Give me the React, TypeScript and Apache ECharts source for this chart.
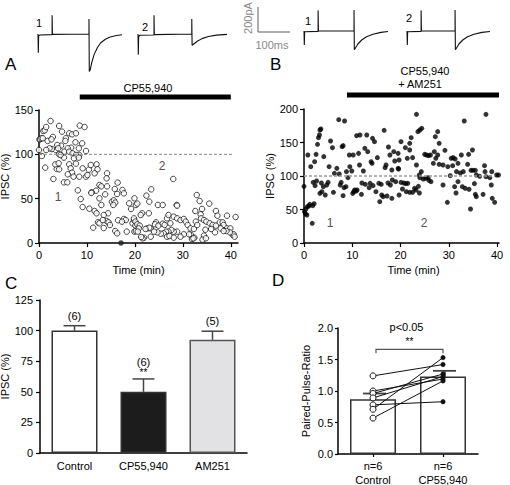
import React, { useEffect, useRef } from "react";
import * as echarts from "echarts";

const FONT = "'Liberation Sans', Arial, Helvetica, sans-serif";

// ---------- Example traces (time in ms, current in pA) ----------
const traceA1: number[][] = [[0,0],[1,0],[1,-150],[2,-15],[6,-8],[44,-5],[44,150],[45,-3],[159,0],[159,120],[160,-300],[163,-285],[168,-225],[175,-165],[185,-110],[195,-72],[210,-42],[225,-24],[245,-12],[262,-6]];
const traceA2: number[][] = [[0,0],[1,0],[1,-165],[2,-20],[6,-10],[50,-8],[50,150],[51,-5],[168,0],[168,120],[169,-90],[175,-78],[185,-58],[200,-37],[220,-20],[245,-9],[278,-3]];
const traceB1: number[][] = [[0,0],[1,0],[1,-112],[2,-6],[44,-3],[44,165],[45,0],[156,0],[156,168],[157,-150],[160,-138],[168,-104],[180,-72],[195,-46],[215,-26],[240,-11],[262,-4]];
const traceB2: number[][] = [[0,0],[1,0],[1,-112],[2,-6],[44,-3],[44,165],[45,0],[150,0],[150,168],[151,-150],[154,-138],[162,-104],[174,-72],[189,-46],[209,-26],[234,-11],[259,-4]];

// ---------- Panel A: CP55,940 (open circles), [time min, IPSC %] ----------
const scatterA: number[][] = [
[0.1,116.6],[0.2,117.3],[0.5,118.1],[0.8,118.1],[0,104.9],[0.6,98.1],[0.9,126.3],[1.2,127.1],[1.5,130.8],[2.4,137.6],[1.3,85.0],[3.0,72.2],[4.2,132.0],[4.8,125.6],[5.6,118.1],[6.3,123.7],[6.9,122.6],[7.7,123.7],[8.5,132.4],[9.5,130.8],[9.0,112.4],[9.8,103.8],[7.6,113.6],[8.3,106.8],[8.4,99.3],[6.7,107.5],[6.0,106.8],[5.5,115.1],[5.3,103.0],[4.6,109.8],[3.8,110.5],[3.5,104.9],[2.7,106.0],[2.2,106.8],[1.8,115.1],[1.5,104.9],[2.9,119.6],[2.6,116.9],[4.0,106.8],[4.2,100.0],[5.2,96.3],[4.5,99.3],[6.3,103.0],[7.0,101.1],[7.7,99.3],[7.3,95.5],[6.3,88.7],[6.6,84.2],[6.9,79.3],[6.0,77.5],[5.2,68.4],[5.9,68.4],[3.7,83.5],[4.2,83.1],[3.4,88.7],[4.1,89.9],[7.7,89.5],[8.3,96.3],[9.1,84.2],[7.2,74.8],[8.4,74.8],[9.8,74.8],[10.1,76.7],[10.4,82.7],[10.8,88.0],[12.0,88.7],[12.2,83.1],[11.6,78.6],[14.2,78.6],[14.1,72.9],[12.6,65.4],[13.0,63.9],[14.2,63.9],[16.4,68.1],[15.8,60.9],[17.4,59.8],[17.7,56.0],[16.3,55.3],[13.8,54.9],[15.2,46.6],[15.6,48.1],[15.9,45.5],[15.5,42.9],[11.9,59.0],[11.0,57.2],[10.9,56.4],[8.1,59.4],[8.7,49.6],[9.1,40.6],[10.5,38.7],[11.6,36.1],[12.6,50.4],[13.0,42.9],[12.0,33.5],[12.3,23.3],[12.6,22.2],[14.4,33.5],[13.5,31.6],[14.1,24.8],[14.5,23.3],[14.8,20.3],[13.3,25.9],[11.3,17.3],[13.5,16.9],[16.5,25.6],[17.7,27.1],[18.1,25.9],[17.3,24.1],[15.9,13.5],[16.3,10.9],[18.3,12.8],[19.5,22.2],[18.8,44.7],[19.2,38.4],[19.9,50.4],[20.2,42.9],[19.8,25.9],[20.1,19.6],[19.9,12.8],
[28.0,72.2],[23.4,60.5],[22.4,53.4],[23.0,46.6],[20.5,44.4],[24.8,42.9],[25.8,42.9],[28.7,42.9],[28.8,42.1],[32.9,54.1],[33.5,47.4],[34.0,38.4],[35.5,44.4],[32.6,36.1],[33.7,32.3],[33.8,27.8],[36.9,36.1],[37.2,30.8],[39.2,30.8],[41.0,29.3],[22.9,33.5],[21.5,33.5],[21.2,31.6],[19.8,27.8],[20.1,24.1],[20.5,21.1],[21.0,19.6],[20.2,13.5],[20.8,16.5],[22.6,16.5],[23.3,16.5],[24.4,23.3],[24.2,21.1],[24.9,19.6],[25.8,21.8],[26.2,20.3],[26.7,27.8],[27.0,31.6],[27.4,22.2],[28.1,29.7],[28.8,27.8],[29.5,25.9],[30.2,27.1],[30.6,24.1],[31.0,20.3],[31.6,16.5],[32.3,15.8],[32.7,24.1],[33.0,20.3],[34.4,25.9],[34.9,24.1],[35.6,22.2],[36.2,20.3],[36.9,19.6],[37.7,23.3],[38.3,23.3],[38.5,20.3],[37.9,16.5],[39.2,16.5],[39.9,16.5],[40.4,9.0],[40.6,9.8],[39.8,12.0],[39.1,13.5],[36.7,12.0],[35.9,15.8],[34.7,15.0],[34.4,8.3],[34.1,3.8],[32.4,6.0],[31.7,9.0],[31.3,9.8],[30.2,9.8],[29.5,7.1],[28.8,12.8],[28.1,12.8],[27.6,14.7],[27.0,12.8],[26.5,12.8],[26.0,10.9],[25.4,10.5],[24.7,12.0],[24.0,12.8],[23.3,7.1],[21.9,6.0],[21.6,5.3],[21.3,6.8],[20.6,12.8],[23.0,17.3],[22.2,15.8],[26.7,7.1],[27.2,7.9],[28.1,6.0],[31.9,4.5],[32.2,5.3],[34.8,5.3],[38.5,13.5],[40.8,7.1]
];
const filledPointA: number[][] = [[17.1, 0]];

// ---------- Panel B: CP55,940 + AM251 (filled), [time min, IPSC %] ----------
const scatterB: number[][] = [
[0,84.6],[0.1,46.8],[0.4,50.7],[0.7,54.2],[1.0,55.2],[1.2,57.7],[1.8,55.7],[2.1,58.7],[1.7,29.4],[0.6,41.8],[0.3,43.8],[0.8,131.3],[1.4,113.9],[2.2,121.4],[2.5,132.3],[2.8,147.3],[3.0,157.2],[3.2,161.2],[3.3,168.7],[3.5,170.1],[2.6,92.5],[1.9,90.5],[2.3,85.6],[3.6,89.6],[4.0,84.1],[3.7,76.6],[3.3,74.1],[4.1,128.9],[4.4,71.6],[4.7,86.6],[5.0,90.5],[5.2,113.9],[5.5,152.2],[5.9,142.3],[6.1,75.6],[6.3,104.0],[6.8,111.4],[7.2,184.1],[8.4,182.1],[7.3,103.0],[7.5,86.6],[7.7,90.5],[7.9,143.8],[8.1,145.3],[8.1,70.6],[8.3,82.6],[8.8,106.5],[8.7,84.1],[9.1,97.5],[9.4,131.3],[9.5,113.9],[9.9,107.5],[10.1,74.1],[10.2,131.3],[10.3,76.6],[10.5,79.1],[10.8,77.6],[10.9,160.2],[11.0,79.1],[11.3,133.8],[11.5,116.4],[11.6,161.2],[11.9,72.6],[12.0,89.6],[12.3,107.5],[12.6,141.3],[12.7,87.6],[13.0,161.2],[13.2,136.3],[13.5,82.6],[13.7,89.1],[13.9,121.4],[14.1,118.9],[14.2,156.2],[14.3,85.6],[14.6,151.2],[14.9,76.6],[15.2,127.4],[15.5,89.1],[15.7,61.7],[16.0,87.6],[16.1,71.6],[16.4,69.2],[16.6,168.2],[16.8,112.4],[17.0,116.4],[17.2,70.1],[17.4,89.6],[17.5,143.3],[17.8,131.3],[17.9,86.6],[18.2,66.7],[18.3,94.0],[18.6,136.3],[18.8,122.4],[19.0,91.5],[19.5,133.8],[19.6,110.4],[19.7,71.6],[18.2,109.0],
[23.3,192.0],[37.7,192.0],[33.2,182.1],[23.6,166.2],[24.0,168.7],[24.4,171.1],[27.7,166.2],[27.2,158.7],[28.0,148.8],[22.2,157.2],[20.1,151.2],[21.0,142.3],[21.9,148.8],[21.9,138.8],[21.4,126.4],[22.5,127.4],[19.7,123.9],[19.5,111.4],[25.0,132.3],[25.4,131.3],[25.8,130.3],[26.2,131.3],[27.0,136.3],[27.3,126.4],[27.7,131.3],[26.8,118.9],[29.2,138.3],[28.0,117.4],[28.8,116.4],[29.8,113.9],[30.5,126.4],[30.9,127.4],[31.3,125.4],[30.8,115.4],[31.6,106.5],[31.9,118.9],[32.6,131.3],[33.0,106.5],[34.1,132.3],[34.9,138.8],[33.9,117.4],[34.6,108.5],[35.0,108.5],[35.5,108.5],[35.7,101.5],[36.4,99.5],[37.4,115.4],[37.5,106.5],[37.7,99.0],[38.5,97.5],[38.9,106.5],[39.9,101.5],[20.1,90.5],[20.7,89.6],[21.1,88.6],[21.5,89.1],[20.4,80.6],[21.2,76.6],[21.9,75.6],[22.5,75.6],[22.9,81.6],[23.2,79.1],[23.7,84.6],[23.9,74.6],[24.0,97.5],[24.7,95.5],[25.2,96.5],[25.7,97.5],[25.9,93.5],[26.3,91.5],[23.3,116.4],[24.3,106.5],[23.9,101.5],[28.8,86.6],[29.7,60.7],[30.3,100.5],[31.2,84.1],[31.5,74.6],[31.9,91.5],[32.4,104.5],[32.8,84.1],[33.4,81.6],[34.2,80.1],[34.5,50.7],[35.3,88.6],[35.5,72.6],[35.7,69.2],[37.1,72.6],[38.8,86.6],[39.0,66.7],[39.5,60.7],[40.3,101.5]
];

const timeTicks = [0, 10, 20, 30, 40];
const drugA = [8.5, 40];
const drugB = [8.9, 40.4];
const baselineA = [[0, 100], [40.5, 100]];
const baselineB = [[0, 100], [39.6, 100]];

// ---------- Panel C ----------
const barCategoriesC = ["Control", "CP55,940", "AM251"];
const barMeansC = [100, 50, 92.5];
const barSemC = [4, 10.5, 7];
const barNC = ["(6)", "(6)", "(5)"];
const barSigC = ["", "**", ""];

// ---------- Panel D ----------
const pprCategories = ["n=6\nControl", "n=6\nCP55,940"];
const pprMeans = [0.87, 1.23];
const pprSem = [0.09, 0.09];
const pprControl = [1.24, 1.0, 0.96, 0.89, 0.78, 0.71, 0.57];
const pprCP = [1.42, 1.19, 1.27, 1.23, 0.83, 1.53, 1.16];

const txt = (text: string, x: number, y: number, extra: any = {}) => ({
  type: "text",
  x,
  y,
  rotation: extra.rotation || 0,
  silent: true,
  style: {
    text,
    fill: extra.fill || "#000",
    font: `${extra.size || 11}px ${FONT}`,
    textAlign: extra.align || "center",
    textVerticalAlign: "middle",
    align: extra.align || "center",
    verticalAlign: "middle",
  },
});

const axisStyle = {
  axisLine: { show: true, lineStyle: { color: "#000", width: 1.5 } },
  axisTick: { show: true, length: 4, inside: false, lineStyle: { color: "#000", width: 1.2 } },
  splitLine: { show: false },
  nameTextStyle: { color: "#000", fontSize: 11, fontFamily: FONT },
};
const lbl = (extra: any = {}) => ({ color: "#000", fontSize: 11, fontFamily: FONT, margin: 6, ...extra });

export default function App() {
  const ref = useRef<HTMLDivElement>(null);
  useEffect(() => {
    if (!ref.current) return;
    const chart = echarts.init(ref.current, undefined, { renderer: "svg" });

    const traceGrids = [
      { left: 38, top: 14, width: 84, height: 60, max: 262, ymin: -320, ymax: 160 },
      { left: 138, top: 14, width: 89, height: 60, max: 278, ymin: -320, ymax: 160 },
      { left: 304, top: 8, width: 84, height: 48, max: 262, ymin: -200, ymax: 184 },
      { left: 407, top: 8, width: 83, height: 48, max: 259, ymin: -200, ymax: 184 },
    ];
    const traces = [traceA1, traceA2, traceB1, traceB2];

    const grids: any[] = traceGrids.map((g) => ({ left: g.left, top: g.top, width: g.width, height: g.height, outerBoundsMode: "none" }));
    grids.push({ left: 39, top: 110, width: 199, height: 133, outerBoundsMode: "none" }); // 4 A
    grids.push({ left: 304, top: 109, width: 195, height: 134, outerBoundsMode: "none" }); // 5 B
    grids.push({ left: 40, top: 300, width: 207, height: 153, outerBoundsMode: "none" }); // 6 C
    grids.push({ left: 338, top: 328, width: 140, height: 126, outerBoundsMode: "none" }); // 7 D
    grids.push({ left: 39, top: 95, width: 199, height: 4, outerBoundsMode: "none" }); // 8 drug A
    grids.push({ left: 304, top: 93, width: 195, height: 4, outerBoundsMode: "none" }); // 9 drug B

    const xAxes: any[] = traceGrids.map((g, i) => ({ type: "value", gridIndex: i, min: 0, max: g.max, show: false }));
    const yAxes: any[] = traceGrids.map((g, i) => ({ type: "value", gridIndex: i, min: g.ymin, max: g.ymax, show: false }));

    xAxes.push({
      ...axisStyle, type: "value", gridIndex: 4, min: 0, max: 41.5, interval: 10,
      axisTick: { ...axisStyle.axisTick, customValues: timeTicks },
      axisLabel: lbl({ customValues: timeTicks }),
      name: "Time (min)", nameLocation: "middle", nameGap: 21,
    });
    yAxes.push({
      ...axisStyle, type: "value", gridIndex: 4, min: 0, max: 150, interval: 50,
      axisLabel: lbl(), name: "IPSC (%)", nameLocation: "middle", nameGap: 25,
    });
    xAxes.push({
      ...axisStyle, type: "value", gridIndex: 5, min: 0, max: 40.4, interval: 10,
      axisTick: { ...axisStyle.axisTick, customValues: timeTicks },
      axisLabel: lbl({ customValues: timeTicks }),
      name: "Time (min)", nameLocation: "middle", nameGap: 21,
      nameTextStyle: { ...axisStyle.nameTextStyle, padding: [0, 0, 0, 24] },
    });
    yAxes.push({
      ...axisStyle, type: "value", gridIndex: 5, min: 0, max: 200, interval: 50,
      axisLabel: lbl(), name: "IPSC (%)", nameLocation: "middle", nameGap: 28,
    });
    xAxes.push({
      ...axisStyle, type: "category", gridIndex: 6, data: barCategoriesC,
      axisTick: { show: false }, axisLabel: lbl({ margin: 7 }),
    });
    yAxes.push({
      ...axisStyle, type: "value", gridIndex: 6, min: 0, max: 125, interval: 25,
      axisLabel: lbl({ margin: 7 }), name: "IPSC (%)", nameLocation: "middle", nameGap: 27,
    });
    xAxes.push({
      ...axisStyle, type: "category", gridIndex: 7, data: pprCategories,
      axisTick: { ...axisStyle.axisTick, alignWithLabel: true, length: 3 },
      axisLabel: lbl({ margin: 5, lineHeight: 14 }),
    });
    yAxes.push({
      ...axisStyle, type: "value", gridIndex: 7, min: 0, max: 2, interval: 0.5,
      axisTick: { ...axisStyle.axisTick, length: 3 },
      axisLabel: lbl({ margin: 5, formatter: (v: number) => v.toFixed(1) }),
      name: "Paired-Pulse-Ratio", nameLocation: "middle", nameGap: 27,
    });
    xAxes.push({ type: "value", gridIndex: 8, min: 0, max: 41.5, show: false });
    yAxes.push({ type: "value", gridIndex: 8, min: -1, max: 1, show: false });
    xAxes.push({ type: "value", gridIndex: 9, min: 0, max: 40.4, show: false });
    yAxes.push({ type: "value", gridIndex: 9, min: -1, max: 1, show: false });

    const series: any[] = traces.map((t, i) => ({
      type: "line", xAxisIndex: i, yAxisIndex: i, data: t, showSymbol: false, symbol: "none",
      lineStyle: { color: "#111", width: 1.1 }, silent: true,
    }));

    series.push({
      type: "line", xAxisIndex: 4, yAxisIndex: 4, data: baselineA, symbol: "none",
      lineStyle: { color: "#8a8a8a", width: 1, type: [3, 2] }, silent: true,
    });
    series.push({
      type: "scatter", xAxisIndex: 4, yAxisIndex: 4, data: scatterA, symbol: "circle", symbolSize: 5.5,
      itemStyle: { color: "#fff", borderColor: "#000", borderWidth: 0.9 }, silent: true,
    });
    series.push({
      type: "scatter", xAxisIndex: 4, yAxisIndex: 4, data: filledPointA, symbol: "circle", symbolSize: 5.5,
      itemStyle: { color: "#222" }, silent: true, clip: false,
    });
    series.push({
      type: "line", xAxisIndex: 5, yAxisIndex: 5, data: baselineB, symbol: "none",
      lineStyle: { color: "#9a9a9a", width: 1.5, type: [3, 2] }, silent: true,
    });
    series.push({
      type: "scatter", xAxisIndex: 5, yAxisIndex: 5, data: scatterB, symbol: "circle", symbolSize: 5,
      itemStyle: { color: "#000" }, silent: true,
    });
    series.push({
      type: "line", xAxisIndex: 8, yAxisIndex: 8, data: drugA.map((t) => [t, 0]), symbol: "none",
      lineStyle: { color: "#000", width: 5, cap: "butt" }, silent: true,
    });
    series.push({
      type: "line", xAxisIndex: 9, yAxisIndex: 9, data: drugB.map((t) => [t, 0]), symbol: "none",
      lineStyle: { color: "#000", width: 5, cap: "butt" }, silent: true,
    });

    // Panel C bars
    const barFill = ["#ffffff", "#1c1c1c", "#e2e2e4"];
    const barBorder = ["#333", "#333", "#555"];
    series.push({
      type: "bar", xAxisIndex: 6, yAxisIndex: 6, barWidth: 46, silent: true,
      data: barMeansC.map((v, i) => ({ value: v, itemStyle: { color: barFill[i], borderColor: barBorder[i], borderWidth: 1.5 } })),
    });
    series.push({
      type: "custom", xAxisIndex: 6, yAxisIndex: 6, silent: true,
      data: barMeansC.map((m, i) => [i, m, barSemC[i]]),
      renderItem: (params: any, api: any) => {
        const i = params.dataIndex;
        const m = barMeansC[i];
        const base = api.coord([i, m]);
        const top = api.coord([i, m + barSemC[i]]);
        const children: any[] = [
          { type: "line", shape: { x1: top[0], y1: base[1], x2: top[0], y2: top[1] }, style: { stroke: "#444", lineWidth: 1.5 } },
          { type: "line", shape: { x1: top[0] - 11, y1: top[1], x2: top[0] + 11, y2: top[1] }, style: { stroke: "#444", lineWidth: 1.5 } },
        ];
        if (barSigC[i]) {
          children.push(txt(barSigC[i], top[0], top[1] - 6, { size: 10 }));
          children.push(txt(barNC[i], top[0], top[1] - 17, { size: 11 }));
        } else {
          children.push(txt(barNC[i], top[0], top[1] - 10, { size: 11 }));
        }
        return { type: "group", children };
      },
    });

    // Panel D bars
    series.push({
      type: "bar", xAxisIndex: 7, yAxisIndex: 7, barWidth: 46, silent: true,
      data: pprMeans, itemStyle: { color: "#fff", borderColor: "#333", borderWidth: 1.5 },
    });
    series.push({
      type: "custom", xAxisIndex: 7, yAxisIndex: 7, silent: true,
      data: pprMeans.map((m, i) => [i, m, pprSem[i]]),
      renderItem: (params: any, api: any) => {
        const i = params.dataIndex;
        const m = pprMeans[i];
        const base = api.coord([i, m]);
        const top = api.coord([i, m + pprSem[i]]);
        return {
          type: "group",
          children: [
            { type: "line", shape: { x1: top[0] + 2, y1: base[1], x2: top[0] + 2, y2: top[1] }, style: { stroke: "#444", lineWidth: 1.5 } },
            { type: "line", shape: { x1: top[0] - 10, y1: top[1], x2: top[0] + 13, y2: top[1] }, style: { stroke: "#444", lineWidth: 1.8 } },
          ],
        };
      },
    });
    pprControl.forEach((c, k) => {
      series.push({
        type: "line", xAxisIndex: 7, yAxisIndex: 7, silent: true, symbol: "circle", symbolSize: 5,
        lineStyle: { color: "#111", width: 1 }, z: 5,
        data: [
          { value: c, symbolSize: 6, itemStyle: { color: "#fff", borderColor: "#111", borderWidth: 1 } },
          { value: pprCP[k], symbolSize: 4.5, itemStyle: { color: "#111", borderColor: "#111", borderWidth: 0.5 } },
        ],
      });
    });
    series.push({
      type: "custom", xAxisIndex: 7, yAxisIndex: 7, silent: true, z: 6,
      data: [[0, 1.6, 1.66]],
      renderItem: (params: any, api: any) => {
        const a = api.coord([0, 1.6]);
        const b = api.coord([1, 1.6]);
        const h = api.coord([0, 1.66]);
        const s = api.coord([0, 1.78]);
        const p = api.coord([0, 2.02]);
        const x0 = a[0] + 3;
        const x1 = b[0];
        return {
          type: "group",
          children: [
            { type: "polyline", shape: { points: [[x0, a[1]], [x0, h[1]], [x1, h[1]], [x1, a[1]]] }, style: { stroke: "#555", lineWidth: 1.2, fill: "none" } },
            txt("**", (x0 + x1) / 2, s[1], { size: 10 }),
            txt("p<0.05", (x0 + x1) / 2 - 3, p[1], { size: 11 }),
          ],
        };
      },
    });

    const graphic: any[] = [
      txt("A", 5, 64, { size: 17, align: "left" }),
      txt("B", 270, 64, { size: 17, align: "left" }),
      txt("C", 5, 283, { size: 17, align: "left" }),
      txt("D", 272, 280, { size: 17, align: "left" }),
      txt("CP55,940", 148, 88, { size: 11 }),
      txt("CP55,940", 425, 71, { size: 11 }),
      txt("+ AM251", 420, 84, { size: 11 }),
      txt("1", 39, 23, { size: 11 }),
      txt("2", 145, 27, { size: 11 }),
      txt("1", 308, 21, { size: 11 }),
      txt("2", 409, 18, { size: 11 }),
      txt("1", 58, 197, { size: 12, fill: "#555" }),
      txt("2", 162, 166, { size: 12, fill: "#555" }),
      txt("1", 330, 223, { size: 12, fill: "#555" }),
      txt("2", 424, 223, { size: 12, fill: "#555" }),
      txt("200pA", 248, 18, { size: 11, fill: "#888", rotation: Math.PI / 2 }),
      txt("100ms", 272, 45, { size: 11, fill: "#888" }),
      { type: "line", silent: true, shape: { x1: 258, y1: 7, x2: 258, y2: 32 }, style: { stroke: "#777", lineWidth: 1.2 } },
      { type: "line", silent: true, shape: { x1: 258, y1: 32, x2: 290, y2: 32 }, style: { stroke: "#777", lineWidth: 1.2 } },
    ];

    chart.setOption({
      animation: false,
      backgroundColor: "#ffffff",
      textStyle: { fontFamily: FONT },
      grid: grids,
      xAxis: xAxes,
      yAxis: yAxes,
      series,
      graphic,
    });
    return () => chart.dispose();
  }, []);
  return <div ref={ref} style={{ position: "fixed", left: 0, top: 0, width: 510, height: 485, background: "#fff" }} />;
}
